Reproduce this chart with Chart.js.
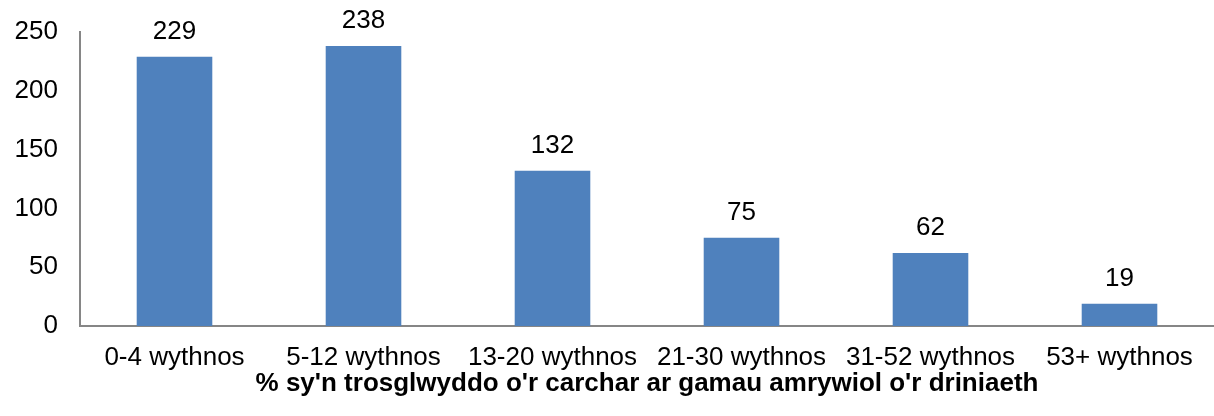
<!DOCTYPE html>
<html>
<head>
<meta charset="utf-8">
<script src="https://cdn.jsdelivr.net/npm/chart.js@4/dist/chart.umd.min.js"></script>
<style>
  html, body { margin: 0; padding: 0; background: #fff; }
  #wrap { width: 1214px; height: 416px; }
</style>
</head>
<body>
<div id="wrap"><canvas id="chart"></canvas></div>
<script>
// data
const categories = ['0-4 wythnos', '5-12 wythnos', '13-20 wythnos', '21-30 wythnos', '31-52 wythnos', '53+ wythnos'];
const values = [229, 238, 132, 75, 62, 19];
const yTicks = [0, 50, 100, 150, 200, 250];
const xTitle = "% sy'n trosglwyddo o'r carchar ar gamau amrywiol o'r driniaeth";

const FONT = "'Liberation Sans', Arial, sans-serif";

// values above each bar, plus the axis title sitting tight under the labels
const extraText = {
  id: 'extraText',
  afterDatasetsDraw(chart) {
    const ctx = chart.ctx;
    const meta = chart.getDatasetMeta(0);
    const area = chart.chartArea;
    ctx.save();
    ctx.font = '26px ' + FONT;
    ctx.fillStyle = '#000';
    ctx.textAlign = 'center';
    ctx.textBaseline = 'alphabetic';
    meta.data.forEach(function (bar, i) {
      ctx.fillText(String(values[i]), bar.x, bar.y - 18);
    });
    ctx.font = 'bold 26px ' + FONT;
    ctx.textBaseline = 'middle';
    ctx.fillText(xTitle, (area.left + area.right) / 2, area.bottom + 58);
    ctx.restore();
  }
};

const ctx = document.getElementById('chart').getContext('2d');
const chart = new Chart(ctx, {
  type: 'bar',
  data: {
    labels: categories,
    datasets: [{
      data: values,
      backgroundColor: '#4F81BD',
      borderWidth: 0,
      barPercentage: 0.4,
      categoryPercentage: 1
    }]
  },
  options: {
    responsive: true,
    maintainAspectRatio: false,
    animation: false,
    layout: { padding: { top: 32, right: 0, bottom: 26, left: 0 } },
    plugins: {
      legend: { display: false },
      tooltip: { enabled: false }
    },
    scales: {
      x: {
        grid: { display: false, drawTicks: false },
        border: { display: true, color: '#868686', width: 2 },
        ticks: { color: '#000', font: { family: FONT, size: 26, lineHeight: 1 }, padding: 19, maxRotation: 0, autoSkip: false }
      },
      y: {
        min: 0,
        max: 250,
        afterBuildTicks(scale) { scale.ticks = yTicks.map(v => ({ value: v })); },
        afterFit(scale) {
          scale.width = 80;
          scale.paddingTop = 0;
          scale.paddingBottom = 0;
        },
        grid: { display: false, drawTicks: false },
        border: { display: true, color: '#868686', width: 2 },
        ticks: { color: '#000', font: { family: FONT, size: 26 }, padding: 22 }
      }
    }
  },
  plugins: [extraText]
});
</script>
</body>
</html>
